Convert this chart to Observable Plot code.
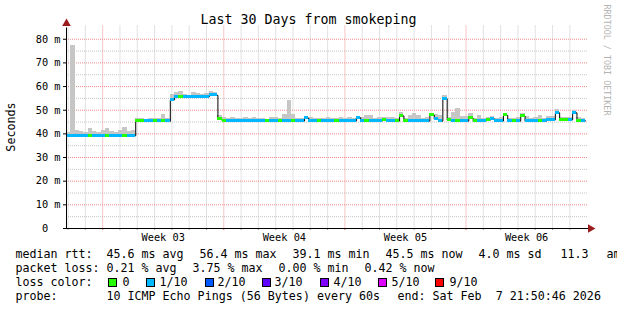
<!DOCTYPE html>
<html>
<head>
<meta charset="utf-8">
<script src="https://cdn.jsdelivr.net/npm/d3@7"></script>
<script src="https://cdn.jsdelivr.net/npm/@observablehq/plot@0.6"></script>
<style>
  html, body { margin: 0; padding: 0; background: #fff; }
  #wrap { position: relative; width: 617px; height: 310px; overflow: hidden;
          font-family: "DejaVu Sans Mono", monospace; color: #000; background: #fff; }
  #chart { position: absolute; left: 0; top: 0; }
  .abs { position: absolute; white-space: pre; }
  #title { left: 0; width: 617px; top: 12px; line-height: 16px; text-align: center; font-size: 13.3px; }
  #ylabel { left: 11px; top: 127px; transform: translate(-50%, -50%) rotate(-90deg); font-size: 11.7px; line-height: 14px; }
  #vendor { left: 607px; top: 60px; transform: translate(-50%, -50%) rotate(90deg); font-size: 8.4px; line-height: 10px; color: #b4b4b4; }
  .lg { font-size: 11.66px; line-height: 14px; height: 14px; }
  .box { position: absolute; width: 7px; height: 7px; border: 1px solid #000; }
</style>
</head>
<body>
<div id="wrap">
  <div id="chart"></div>
  <div class="abs" id="title"></div>
  <div class="abs" id="ylabel"></div>
  <div class="abs" id="vendor"></div>
  <div id="legend"></div>
</div>
<script>
// ---------------- DATA ----------------
const titleText = "Last 30 Days from smokeping";
const yAxisTitle = "Seconds";
const vendorText = "RRDTOOL / TOBI OETIKER";
const endTime = new Date(Date.UTC(2026, 1, 7, 21, 50, 46));
const bucketHours = 6;

// median RTT (ms), one value per 6-hour bucket, 120 buckets = 30 days
const medianMs = [
  39.2,39.2,39.2,39.1,39.2,39.2,39.2,39.1,39.2,39.2,39.2,39.2,39.1,39.2,39.2,39.2,
  45.3,45.3,45.3,45.3,45.3,45.3,45.3,45.3,
  54.4,55.6,55.6,55.6,55.6,55.6,55.6,55.6,55.6,56.3,56.3,
  46.2,45.4,45.4,45.4,45.4,45.4,45.4,45.4,45.4,45.4,
  45.4,45.4,45.4,45.4,45.4,45.4,45.4,45.4,45.4,45.4,
  46.6,45.5,45.4,45.4,45.4,45.4,45.4,45.4,45.4,45.4,
  45.4,45.4,46.8,45.4,45.4,45.4,45.4,45.4,45.9,45.4,
  45.4,45.4,47.6,45.4,45.4,45.4,45.4,45.4,45.4,48.0,
  46.2,45.4,54.9,45.8,45.4,45.4,45.4,45.4,46.6,45.4,
  45.4,45.4,45.8,46.3,45.4,45.4,47.8,45.4,45.4,45.4,
  47.6,45.4,45.4,45.4,45.4,45.4,45.9,45.9,48.9,45.9,
  45.9,45.9,48.9,45.6,45.5
];
// top of the smoke (highest ping) per bucket (ms)
const smokeTopMs = [
  40.7,77.2,41.6,41.2,40.7,42.1,41.2,40.7,41.6,42.1,40.9,40.7,41.6,42.5,40.9,41.5,
  46.4,46.7,46.2,46.6,46.3,46.6,48.0,46.4,
  56.5,57.4,57.8,56.8,56.4,57.3,56.9,56.6,57.2,57.8,57.4,
  47.9,46.8,46.6,46.9,46.4,46.7,47.0,46.5,47.0,46.3,
  46.6,46.2,46.8,47.0,46.5,48.0,54.3,48.0,46.6,46.6,
  47.2,46.9,46.6,46.6,46.3,47.0,46.4,46.6,47.0,46.5,
  47.0,46.4,47.4,47.0,47.6,47.6,46.5,47.0,46.8,47.0,
  46.9,46.5,49.0,46.7,47.6,48.6,47.7,46.6,46.9,48.6,
  48.0,47.7,56.2,47.0,49.1,50.8,47.3,47.3,48.7,46.6,
  47.7,46.5,47.0,47.2,46.6,46.9,48.7,46.6,46.4,46.8,
  48.7,47.3,46.5,46.8,47.7,46.7,47.3,47.3,50.3,46.9,
  47.0,46.8,49.8,47.0,46.6
];
// packet loss level per bucket (tenths of pings lost)
const lossLevel = [
  1,1,1,1,1,0,1,1,1,0,
  1,1,1,0,1,1,0,0,1,1,
  0,1,0,1,1,1,0,1,1,1,
  1,1,1,1,1,0,0,1,1,1,
  1,1,1,1,1,1,0,1,1,0,
  1,1,0,1,1,1,1,1,0,1,
  1,1,0,1,1,1,1,1,1,0,
  1,1,1,0,1,1,0,0,0,1,
  1,1,1,1,0,1,1,1,0,1,
  0,1,1,0,0,1,1,0,1,1,
  1,0,1,0,1,0,1,1,1,0,
  1,1,1,1,0,0,1,1,0,1
];
const lossLevels = [0, 1, 2, 3, 4, 5, 9];
const lossLabels = ["0", "1/10", "2/10", "3/10", "4/10", "5/10", "9/10"];
const lossColorList = ["#26ff00", "#00b8ff", "#0059ff", "#5e00ff", "#7e00ff", "#dd00ff", "#ff0000"];

const yTicks = [0, 10, 20, 30, 40, 50, 60, 70, 80];
const yMinorTicks = [5, 15, 25, 35, 45, 55, 65, 75];
const weekLabels = ["Week 03", "Week 04", "Week 05", "Week 06"];
const weekStartDates = ["2026-01-11", "2026-01-18", "2026-01-25", "2026-02-01"];

const medianRow = ["median rtt:", "45.6 ms avg", "56.4 ms max", "39.1 ms min", "45.5 ms now", "4.0 ms sd", "11.3", "am/as"];
const lossRow = ["packet loss:", "0.21 % avg", "3.75 % max", "0.00 % min", "0.42 % now"];
const lossColorTitle = "loss color:";
const probeRow = ["probe:", "10 ICMP Echo Pings (56 Bytes) every 60s", "end: Sat Feb  7 21:50:46 2026"];

// ---------------- LAYOUT ----------------
const medianRowX = [16, 107, 200, 293, 386, 479, 561, 607];
const lossRowX = [16, 107, 193, 279, 365];
const lossBoxX = [108, 146, 205, 262, 320, 378, 435];
const lossTextX = [123, 160, 218, 275, 334, 392, 450];
const probeRowX = [16, 107, 398];
const rowCenters = [254, 268, 282, 296];

// ---------------- BUILD ----------------
const H = 3600e3, DAY = 24 * H;
const startTime = new Date(+endTime - medianMs.length * bucketHours * H);
const rows = medianMs.map((m, i) => ({
  t1: new Date(+startTime + i * bucketHours * H),
  t2: new Date(+startTime + (i + 1) * bucketHours * H),
  median: m,
  top: smokeTopMs[i],
  color: lossColorList[lossLevels.indexOf(lossLevel[i])]
}));
const lineData = rows.map(r => ({t: r.t1, v: r.median}));
lineData.push({t: rows[rows.length - 1].t2, v: rows[rows.length - 1].median});

const weekStarts = weekStartDates.map(s => new Date(s + "T00:00:00Z"));
const weekLabelPos = weekStarts.map(d => new Date(+d + 3.5 * DAY));
const labelByTime = new Map(weekLabelPos.map((d, i) => [+d, weekLabels[i]]));
const sundaySet = new Set(weekStarts.map(d => +d));
const dayTicks = d3.utcDay.range(d3.utcDay.ceil(startTime), endTime).filter(d => !sundaySet.has(+d));
const xEnd = new Date(+endTime + 4 * H);
const yTop = 85.6;

const chart = Plot.plot({
  width: 617, height: 245,
  marginLeft: 66, marginRight: 29, marginTop: 25.5, marginBottom: 17,
  style: {fontFamily: "DejaVu Sans Mono", fontSize: "10.3px", color: "#000", background: "transparent", overflow: "visible"},
  x: {type: "utc", domain: [startTime, xEnd], label: null},
  y: {domain: [0, yTop], label: null},
  color: {type: "identity"},
  marks: [
    Plot.ruleY(yMinorTicks, {stroke: "#c4c4c4", strokeDasharray: "1,1"}),
    Plot.ruleX(dayTicks, {stroke: "#c4c4c4", strokeDasharray: "1,1"}),
    Plot.ruleY(yTicks.filter(v => v > 0), {stroke: "#ee8c8c", strokeDasharray: "1,1"}),
    Plot.ruleX(weekStarts, {stroke: "#ee8c8c", strokeDasharray: "1,1"}),
    Plot.rect(rows, {x1: "t1", x2: "t2", y1: "median", y2: "top", fill: "#c6c6c6", shapeRendering: "crispEdges"}),
    Plot.line(lineData, {x: "t", y: "v", curve: "step-after", stroke: "#000", strokeWidth: 1}),
    Plot.rect(rows, {x1: "t1", x2: "t2", y1: d => d.median - 0.65, y2: d => d.median + 0.65, fill: "color", shapeRendering: "crispEdges"}),
    Plot.ruleX(dayTicks, {y1: 0, y2: 0, insetBottom: -2, stroke: "#999"}),
    Plot.ruleX(weekStarts, {y1: 0, y2: 0, insetBottom: -2, stroke: "#e06060"}),
    Plot.ruleY([0], {stroke: "#000"}),
    Plot.ruleX([startTime], {y1: 0, y2: yTop, insetBottom: -2, stroke: "#000"}),
    Plot.axisY({ticks: yTicks, tickFormat: d => d === 0 ? "0\u00a0\u00a0" : d + " m", tickSize: 3, tickPadding: 3, label: null}),
    Plot.axisX({ticks: weekLabelPos, tickFormat: d => labelByTime.get(+d), tickSize: 0, tickPadding: 5.5, label: null}),
    Plot.dot([startTime], {x: d => d, y: yTop, symbol: "triangle", r: 3.2, fill: "#9b1c1c", stroke: "none", dy: -2.5}),
    Plot.dot([xEnd], {x: d => d, y: 0, symbol: "triangle", r: 3.2, fill: "#9b1c1c", stroke: "none", rotate: 90, dx: 2})
  ]
});
document.getElementById("chart").appendChild(chart);

document.getElementById("title").textContent = titleText;
document.getElementById("ylabel").textContent = yAxisTitle;
document.getElementById("vendor").textContent = vendorText;

const legend = document.getElementById("legend");
function addText(text, x, center) {
  const s = document.createElement("div");
  s.className = "abs lg";
  s.style.left = (x - 0.6) + "px";
  s.style.top = (center - 7) + "px";
  s.textContent = text;
  legend.appendChild(s);
}
medianRow.forEach((t, i) => addText(t, medianRowX[i], rowCenters[0]));
lossRow.forEach((t, i) => addText(t, lossRowX[i], rowCenters[1]));
addText(lossColorTitle, 16, rowCenters[2]);
lossLabels.forEach((t, i) => {
  const b = document.createElement("div");
  b.className = "box";
  b.style.left = lossBoxX[i] + "px";
  b.style.top = (rowCenters[2] - 4.5) + "px";
  b.style.background = lossColorList[i];
  legend.appendChild(b);
  addText(t, lossTextX[i], rowCenters[2]);
});
probeRow.forEach((t, i) => addText(t, probeRowX[i], rowCenters[3]));
</script>
</body>
</html>
